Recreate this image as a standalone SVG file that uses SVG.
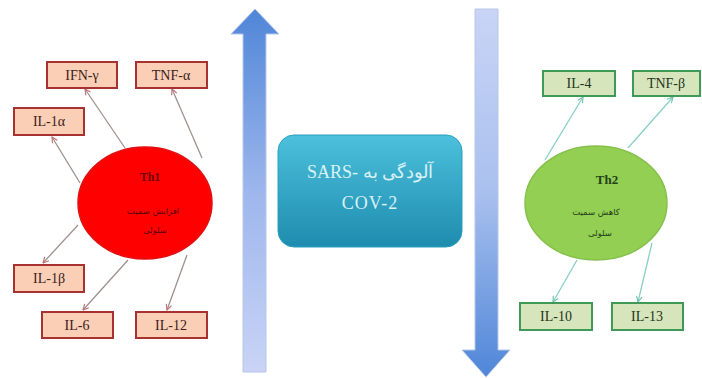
<svg xmlns="http://www.w3.org/2000/svg" width="702" height="378" viewBox="0 0 702 378">
<defs>
<linearGradient id="gUp" x1="0" y1="0" x2="0" y2="1">
<stop offset="0" stop-color="#4f86d8"/>
<stop offset="0.5" stop-color="#9db6ec"/>
<stop offset="1" stop-color="#c9d4f6"/>
</linearGradient>
<linearGradient id="gDown" x1="0" y1="0" x2="0" y2="1">
<stop offset="0" stop-color="#c9d4f6"/>
<stop offset="0.5" stop-color="#a9c0ee"/>
<stop offset="1" stop-color="#4f86d8"/>
</linearGradient>
<linearGradient id="gBox" x1="0" y1="0" x2="0" y2="1">
<stop offset="0" stop-color="#4cc0dc"/>
<stop offset="1" stop-color="#1e8cae"/>
</linearGradient>
<marker id="mR" viewBox="0 0 10 10" refX="9" refY="5" markerWidth="7" markerHeight="7" orient="auto" markerUnits="userSpaceOnUse">
<path d="M1,1 L9,5 L1,9" fill="none" stroke="#c07070" stroke-width="1.6"/>
</marker>
<marker id="mG" viewBox="0 0 10 10" refX="9" refY="5" markerWidth="7" markerHeight="7" orient="auto" markerUnits="userSpaceOnUse">
<path d="M1,1 L9,5 L1,9" fill="none" stroke="#70c0b0" stroke-width="1.6"/>
</marker>
</defs>
<style>
.rb{fill:#fbcfb6;stroke:#a83232;stroke-width:2}
.gb{fill:#d6e5bb;stroke:#3f9a58;stroke-width:2}
.lbl{font-family:"Liberation Serif",serif;font-size:14px;fill:#3a2020;text-anchor:middle}
.glbl{font-family:"Liberation Serif",serif;font-size:14px;fill:#24341c;text-anchor:middle}
.lr{stroke:#a09090;stroke-width:1.3;fill:none;marker-end:url(#mR)}
.lg{stroke:#88d0c4;stroke-width:1.3;fill:none;marker-end:url(#mG)}
.fa{font-family:"DejaVu Sans","Noto Sans",sans-serif;text-anchor:middle}
</style>
<rect width="702" height="378" fill="#ffffff"/>

<g id="arrow-up">
<polygon points="243,372 266,372 266,34 279,34 255,9 231,34 243,34" fill="url(#gUp)" stroke="#b8c6ea" stroke-width="1"/>
</g>
<g id="arrow-down">
<polygon points="475,9 498,9 498,350 510,350 486,377 462,350 475,350" fill="url(#gDown)" stroke="#b8c6ea" stroke-width="1"/>
</g>

<g id="connectors">
<line class="lr" x1="80" y1="183" x2="52" y2="137"/>
<line class="lr" x1="125" y1="148" x2="85" y2="89"/>
<line class="lr" x1="202" y1="158" x2="172" y2="89"/>
<line class="lr" x1="78" y1="225" x2="43" y2="263"/>
<line class="lr" x1="128" y1="260" x2="83" y2="310"/>
<line class="lr" x1="187" y1="255" x2="167" y2="310"/>
<line class="lg" x1="545" y1="160" x2="583" y2="97"/>
<line class="lg" x1="628" y1="148" x2="673" y2="97"/>
<line class="lg" x1="577" y1="260" x2="553" y2="302"/>
<line class="lg" x1="652" y1="243" x2="638" y2="302"/>
</g>

<g id="sars">
<rect x="278" y="135" width="184" height="112" rx="16" fill="url(#gBox)" stroke="#2aa0c0" stroke-width="1"/>
<text x="370" y="178" font-family="Liberation Serif,serif" font-size="18" fill="#d8f2f6" text-anchor="middle" direction="ltr">SARS- آلودگی به</text>
<text x="370" y="209" font-family="Liberation Serif,serif" font-size="18" fill="#d8f2f6" text-anchor="middle" letter-spacing="1">COV-2</text>
</g>

<g id="th1">
<ellipse cx="145" cy="203" rx="67" ry="56" fill="#ff0000" stroke="#e01010" stroke-width="1.5"/>
<text x="150" y="181" font-family="Liberation Serif,serif" font-size="12" font-weight="bold" fill="#700000" text-anchor="middle">Th1</text>
<text class="fa" x="153" y="214" font-size="8.5" fill="#5a0000">افزایش سمیت</text>
<text class="fa" x="155" y="233" font-size="8.5" fill="#5a0000">سلولی</text>
</g>

<g id="th2">
<ellipse cx="596" cy="203" rx="71" ry="57" fill="#92cf52" stroke="#86c04c" stroke-width="1.5"/>
<text x="607" y="184" font-family="Liberation Serif,serif" font-size="13" font-weight="bold" fill="#24401a" text-anchor="middle">Th2</text>
<text class="fa" x="596" y="215" font-size="8.5" fill="#24401a">کاهش سمیت</text>
<text class="fa" x="600" y="236" font-size="8.5" fill="#24401a">سلولی</text>
</g>

<g id="ifn-g"><rect class="rb" x="47" y="62" width="70" height="26"/><text class="lbl" x="82" y="80">IFN-γ</text></g>
<g id="tnf-a"><rect class="rb" x="136" y="62" width="71" height="26"/><text class="lbl" x="171" y="80">TNF-α</text></g>
<g id="il-1a"><rect class="rb" x="14" y="108" width="70" height="27"/><text class="lbl" x="49" y="126">IL-1α</text></g>
<g id="il-1b"><rect class="rb" x="14" y="265" width="70" height="27"/><text class="lbl" x="49" y="283">IL-1β</text></g>
<g id="il-6"><rect class="rb" x="42" y="312" width="71" height="26"/><text class="lbl" x="77" y="330">IL-6</text></g>
<g id="il-12"><rect class="rb" x="136" y="312" width="71" height="26"/><text class="lbl" x="171" y="330">IL-12</text></g>

<g id="il-4"><rect class="gb" x="543" y="71" width="72" height="25"/><text class="glbl" x="579" y="88">IL-4</text></g>
<g id="tnf-b"><rect class="gb" x="633" y="71" width="67" height="25"/><text class="glbl" x="666" y="88">TNF-β</text></g>
<g id="il-10"><rect class="gb" x="520" y="303" width="72" height="27"/><text class="glbl" x="556" y="321">IL-10</text></g>
<g id="il-13"><rect class="gb" x="612" y="303" width="71" height="27"/><text class="glbl" x="647" y="321">IL-13</text></g>
</svg>
